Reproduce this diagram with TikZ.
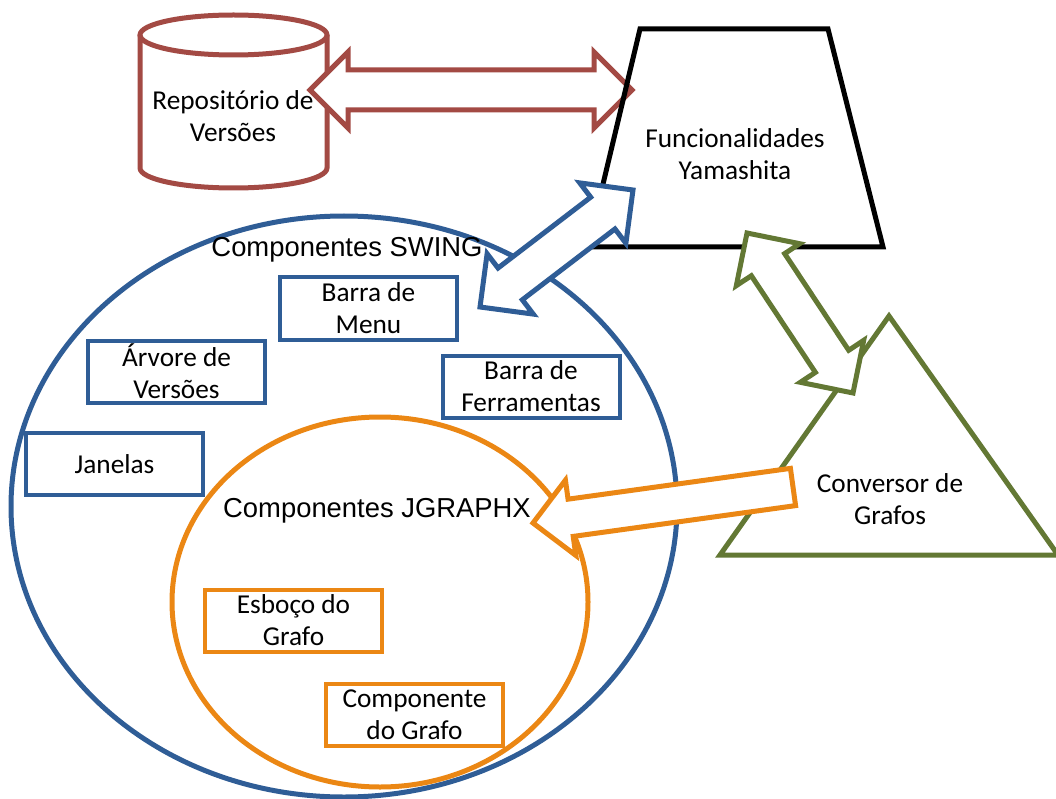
\documentclass[tikz,border=0pt]{standalone}
\usepackage{fontspec}
\setmainfont{Carlito}
\newfontfamily\titlesans{Liberation Sans}
\usetikzlibrary{calc,shapes.geometric}

\definecolor{swingblue}{RGB}{47,93,150}
\definecolor{jgorange}{RGB}{235,135,20}
\definecolor{repored}{RGB}{163,74,68}
\definecolor{convgreen}{RGB}{99,120,52}

\newcommand\shapetext{\fontsize{27.3}{32}\selectfont}
\newcommand\titletext{\titlesans\fontsize{27.4}{32}\selectfont}

% block arrow sizes
\def\arrlen{38pt}
\def\arrhead{38pt}
\def\arrshaft{20pt}

% two-headed block arrow between two named coordinates
\newcommand\twowayarrow[3]{%
  \path ($(#2)!\arrlen!(#3)$) coordinate (ha) ($(#3)!\arrlen!(#2)$) coordinate (hb);
  \draw[#1] (#2) -- ($(ha)!\arrhead!90:(#3)$) -- ($(ha)!\arrshaft!90:(#3)$)
    -- ($(hb)!\arrshaft!-90:(#2)$) -- ($(hb)!\arrhead!-90:(#2)$) -- (#3)
    -- ($(hb)!\arrhead!90:(#2)$) -- ($(hb)!\arrshaft!90:(#2)$)
    -- ($(ha)!\arrshaft!-90:(#3)$) -- ($(ha)!\arrhead!-90:(#3)$) -- cycle;
}
% one-headed block arrow from a tail coordinate to a tip coordinate
\newcommand\onewayarrow[3]{%
  \path ($(#3)!\arrlen!(#2)$) coordinate (hp);
  \draw[#1] (#3) -- ($(hp)!\arrhead!90:(#2)$) -- ($(hp)!\arrshaft!90:(#2)$)
    -- ($(#2)!\arrshaft!-90:(#3)$) -- ($(#2)!\arrshaft!90:(#3)$)
    -- ($(hp)!\arrshaft!-90:(#2)$) -- ($(hp)!\arrhead!-90:(#2)$) -- cycle;
}

\tikzset{
  ring/.style={ellipse, draw, line width=5pt, inner sep=0pt},
  compbox/.style={rectangle, draw, line width=4pt, fill=white, inner sep=0pt,
    minimum width=177pt, minimum height=62pt, align=center, font=\shapetext},
  swingbox/.style={compbox, draw=swingblue},
  jgbox/.style={compbox, draw=jgorange},
  title/.style={font=\titletext, inner sep=0pt},
  label/.style={font=\shapetext, align=center, inner sep=0pt},
  blockarrow/.style={line width=5pt, fill=white, line join=miter},
}

\begin{document}
\begin{tikzpicture}[x=1pt,y=-1pt]
\useasboundingbox (0,0) rectangle (1056,799);

% Swing components
\node[ring, draw=swingblue, minimum width=666pt, minimum height=581pt] (swing) at (344,506.5) {};
\node[title] (swingtitle) at (347,250) {Componentes SWING};
\node[swingbox] (menu) at (368.5,308.5) {Barra de\\Menu};
\node[swingbox] (arvore) at (176.5,371.5) {Árvore de\\Versões};
\node[swingbox] (janelas) at (114.5,464) {Janelas};
\node[swingbox] (ferramentas) at (531,386.5) {Barra de\\Ferramentas};

% JGraphX components
\node[ring, draw=jgorange, minimum width=416pt, minimum height=370pt] (jgraphx) at (380,602) {};
\node[title] (jgtitle) at (377,511) {Componentes JGRAPHX};
\node[jgbox] (esboco) at (293.5,620.5) {Esboço do\\Grafo};
\node[jgbox] (compgrafo) at (414.5,714.5) {Componente\\do Grafo};

% version repository (cylinder)
\fill[white] (140,35) -- (140,168) arc[start angle=180, end angle=360, x radius=93.5pt, y radius=20pt] -- (327,35) -- cycle;
\draw[repored, line width=5pt] (140,35) -- (140,168)
  arc[start angle=180, end angle=360, x radius=93.5pt, y radius=20pt] -- (327,35);
\draw[repored, line width=5pt] (233.5,35) ellipse[x radius=93.5pt, y radius=20pt];

% arrow end points
\coordinate (repoR) at (310,90);
\coordinate (funcL) at (632,90);
\coordinate (swingA) at (480,307);
\coordinate (funcB) at (633,190);
\coordinate (funcC) at (747,233);
\coordinate (convA) at (853,393);
\coordinate (convB) at (793,487);
\coordinate (jgA) at (533,523);

\twowayarrow{blockarrow, draw=repored}{repoR}{funcL}

% Yamashita functionality (trapezoid)
\draw[line width=5pt, line join=miter] (640,29) -- (828,29) -- (883,247) -- (588,247) -- cycle;

% graph converter (triangle)
\draw[convgreen, line width=5pt, line join=miter] (889,316) -- (1058,555) -- (720,555) -- cycle;

\twowayarrow{blockarrow, draw=swingblue}{swingA}{funcB}
\twowayarrow{blockarrow, draw=convgreen}{funcC}{convA}
\def\arrshaft{18.8pt}
\onewayarrow{blockarrow, draw=jgorange}{convB}{jgA}

% shape labels
\node[label] (repo) at (233,116) {Repositório de\\Versões};
\node[label] (func) at (735,154) {Funcionalidades\\Yamashita};
\node[label] (conv) at (890,499) {Conversor de\\Grafos};
\end{tikzpicture}
\end{document}
